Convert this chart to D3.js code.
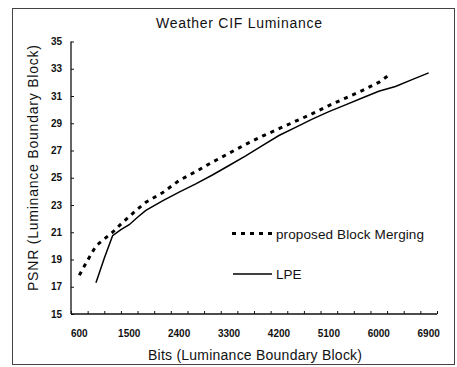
<!DOCTYPE html>
<html><head><meta charset="utf-8">
<script src="https://cdn.jsdelivr.net/npm/d3@7"></script>
<style>body{margin:0;background:#fff}svg{display:block}text{font-family:"Liberation Sans",Arial,sans-serif;fill:#111}</style>
</head><body><svg id="c" width="457" height="367"></svg>
<script>
const xTickLabels = [600,1500,2400,3300,4200,5100,6000,6900];
const yTickLabels = [15,17,19,21,23,25,27,29,31,33,35];
const seriesNames = ["proposed Block Merging","LPE"];
const mergingBits = [600,750,900,1050,1200,1350,1500,1650,1800,2100,2400,2700,3000,3300,3600,3900,4200,4500,4800,5100,5400,5700,6000,6170];
const mergingPSNR = [17.85,18.95,20.0,20.5,21.0,21.6,22.15,22.7,23.2,23.9,24.8,25.45,26.15,26.8,27.45,28.05,28.6,29.15,29.7,30.3,30.85,31.4,32.0,32.5];
const lpeBits = [900,1050,1200,1350,1500,1650,1800,2100,2400,2700,3000,3300,3600,3900,4200,4500,4800,5100,5400,5700,6000,6300,6600,6900];
const lpePSNR = [17.3,19.1,20.75,21.2,21.55,22.1,22.6,23.3,23.95,24.55,25.2,25.9,26.6,27.35,28.1,28.7,29.3,29.85,30.35,30.85,31.35,31.7,32.2,32.7];

const svg = d3.select("#c");
const x = d3.scaleLinear().domain([450,7050]).range([71,437]);
const y = d3.scaleLinear().domain([15,35]).range([314,41.5]);

// outer frame
svg.append("rect").attr("x",12.5).attr("y",8.5).attr("width",442).attr("height",356)
  .attr("fill","none").attr("stroke","#444").attr("stroke-width",1);

// title
svg.append("text").attr("x",239).attr("y",28).attr("text-anchor","middle")
  .attr("font-size",14).attr("textLength",166).attr("lengthAdjust","spacing")
  .text("Weather  CIF  Luminance");

// y axis
const yAxis = d3.axisRight(y).tickValues(yTickLabels).tickSize(3).tickFormat("");
const gy = svg.append("g").attr("transform","translate(71,0)").call(yAxis);
gy.select(".domain").attr("d",`M0,${y(35)}V${y(15)}`).attr("stroke","#111").attr("stroke-width",1.3);
gy.selectAll(".tick line").attr("stroke","#111");
svg.append("g").selectAll("text").data(yTickLabels).join("text")
  .attr("x",62).attr("y",d=>y(d)+3.6).attr("text-anchor","end")
  .attr("font-size",10).attr("font-weight","bold").text(d=>d);

// x axis
const xMinor = d3.range(450,7051,300);
const xAxis = d3.axisTop(x).tickValues(xMinor).tickSize(3).tickFormat("");
const gx = svg.append("g").attr("transform","translate(0,314)").call(xAxis);
gx.select(".domain").attr("d",`M${x(450)},0H${x(7050)}`).attr("stroke","#111").attr("stroke-width",1.3);
gx.selectAll(".tick line").attr("stroke","#111");
svg.append("g").selectAll("text").data(xTickLabels).join("text")
  .attr("x",d=>x(d)).attr("y",337).attr("text-anchor","middle")
  .attr("font-size",10).attr("font-weight","bold").text(d=>d);

// axis titles
svg.append("text").attr("x",255).attr("y",360).attr("text-anchor","middle")
  .attr("font-size",14).attr("textLength",214).attr("lengthAdjust","spacing")
  .text("Bits  (Luminance  Boundary  Block)");
svg.append("text").attr("transform","translate(38,168) rotate(-90)").attr("text-anchor","middle")
  .attr("font-size",14).attr("textLength",246).attr("lengthAdjust","spacing")
  .text("PSNR  (Luminance  Boundary  Block)");

// series
const line = d3.line().x(d=>x(d[0])).y(d=>y(d[1]));
const merging = mergingBits.map((b,i)=>[b,mergingPSNR[i]]);
const lpe = lpeBits.map((b,i)=>[b,lpePSNR[i]]);
svg.append("path").datum(merging).attr("d",line).attr("fill","none")
  .attr("stroke","#000").attr("stroke-width",3).attr("stroke-dasharray","4,5");
svg.append("path").datum(lpe).attr("d",line).attr("fill","none")
  .attr("stroke","#000").attr("stroke-width",1.5);

// legend
svg.append("line").attr("x1",232).attr("x2",272).attr("y1",233.5).attr("y2",233.5)
  .attr("stroke","#000").attr("stroke-width",3).attr("stroke-dasharray","4,5");
svg.append("text").attr("x",276).attr("y",238.5).attr("font-size",13.5)
  .attr("textLength",148).attr("lengthAdjust","spacing").text(seriesNames[0]);
svg.append("line").attr("x1",233).attr("x2",272).attr("y1",274).attr("y2",274)
  .attr("stroke","#000").attr("stroke-width",1.3);
svg.append("text").attr("x",276).attr("y",278.5).attr("font-size",13.5).text(seriesNames[1]);
</script></body></html>
